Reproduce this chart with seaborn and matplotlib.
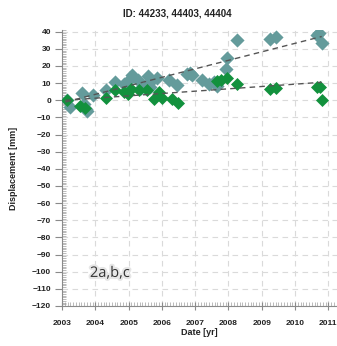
import numpy as np
import pandas as pd
import seaborn as sns
import matplotlib.pyplot as plt
import matplotlib.patheffects as pe
from matplotlib.ticker import MultipleLocator

# Measured displacements (mm) for the three PS points
teal_years = [2003.15, 2003.25, 2003.6, 2003.65, 2003.72, 2003.75, 2003.92, 2004.33,
              2004.6, 2004.85, 2004.95, 2005.1, 2005.28, 2005.38, 2005.57, 2005.6,
              2005.65, 2005.85, 2006.2, 2006.45, 2006.75, 2006.85, 2006.9, 2007.2,
              2007.4, 2007.55, 2007.65, 2007.92, 2007.95, 2008.25, 2009.25, 2009.42,
              2010.65, 2010.72, 2010.82]
teal_disp = [0, -4, 4, -2, -5, -6.5, 3, 6,
             10.5, 9.5, 10.5, 15, 12, 7, 14, 10,
             8, 13, 12, 9, 15.5, 16, 15, 12,
             9.5, 10.5, 8.5, 18, 24.5, 35, 36, 37,
             38, 39, 33.5]

green_years = [2003.15, 2003.55, 2003.7, 2004.33, 2004.6, 2004.85, 2004.98, 2005.08,
               2005.3, 2005.55, 2005.75, 2005.9, 2006.0, 2006.3, 2006.48, 2007.65,
               2007.78, 2007.95, 2008.25, 2009.25, 2009.42, 2010.65, 2010.75, 2010.82]
green_disp = [0, -3.5, -4.5, 1.5, 6, 5, 3.5, 6.5,
              6, 6, 0.5, 5, 1.5, 0.5, -1.5, 11.5,
              12, 13, 9.5, 6.5, 7, 8, 8, 0]

# Linear trends
trend_years = [2003.1, 2010.8]
teal_trend = [-1, 37.2]
green_trend = [0, 10.5]

year_ticks = list(range(2003, 2012))
disp_ticks = list(range(-120, 41, 10))

sns.set_style("white")
plt.rcParams['font.family'] = ['Liberation Sans', 'DejaVu Sans']

fig = plt.figure(figsize=(3.37, 3.46), dpi=100)
ax = fig.add_axes([62 / 337, 40 / 346, 1 - 62 / 337, 276 / 346])

teal_df = pd.DataFrame({"year": teal_years, "disp": teal_disp})
green_df = pd.DataFrame({"year": green_years, "disp": green_disp})
trend_df = pd.DataFrame({"year": trend_years * 2,
                         "disp": teal_trend + green_trend,
                         "series": ["a"] * 2 + ["b"] * 2})

sns.scatterplot(data=teal_df, x="year", y="disp", marker="D", s=52,
                color="#649b9b", linewidth=0, ax=ax, zorder=3)
sns.scatterplot(data=green_df, x="year", y="disp", marker="D", s=44,
                color="#12913d", linewidth=0, ax=ax, zorder=4)
for name, grp in trend_df.groupby("series"):
    sns.lineplot(data=grp, x="year", y="disp", color="#555555", lw=1.0,
                 ax=ax, zorder=5)
    ax.lines[-1].set_dashes([4, 3])

ax.set_xlim(2003, 2003 + (337 - 62) / 33.3)
ax.set_ylim(-120, 41)
ax.set_xticks(year_ticks)
ax.set_yticks(disp_ticks)
ax.xaxis.set_minor_locator(MultipleLocator(1 / 12))
ax.yaxis.set_minor_locator(MultipleLocator(1))

ax.grid(True, which="major", color="#dadada", linestyle=(0, (5, 4)), lw=0.8)
ax.set_axisbelow(True)
for side in ("top", "right"):
    ax.spines[side].set_visible(False)
for side in ("left", "bottom"):
    ax.spines[side].set_color("#8a8a8a")
    ax.spines[side].set_linewidth(0.8)

ax.tick_params(axis="both", which="both", left=True, bottom=True)
ax.tick_params(axis="both", which="major", labelsize=6, colors="#8a8a8a",
               labelcolor="#222222", width=0.8)
ax.tick_params(axis="y", which="major", direction="out", length=5, pad=3)
ax.tick_params(axis="x", which="major", direction="inout", length=6, pad=7)
ax.tick_params(axis="both", which="minor", direction="in", length=3,
               width=0.5, colors="#a0a0a0")
for lab in ax.get_xticklabels() + ax.get_yticklabels():
    lab.set_fontweight("bold")

ax.set_xlabel("Date [yr]", fontsize=6.5, fontweight="bold", labelpad=1,
              color="#222222")
ax.set_ylabel("Displacement [mm]", fontsize=6.5, fontweight="bold",
              color="#222222")
ax.yaxis.set_label_coords(-(62 - 18) / 275, (306 - 168) / 276)

fig.text(177 / 337, 1 - 14 / 346, "ID: 44233, 44403, 44404", ha="center",
         va="center", fontsize=7, fontweight="bold", color="#222222")

ax.text(2004.44, -101, "2a,b,c", ha="center", va="center", fontsize=10.5,
        family=["Open Sans", "DejaVu Sans"], color="#333333",
        path_effects=[pe.withStroke(linewidth=3, foreground="#e6e6e6")])

fig.savefig("out.png", dpi=100)
